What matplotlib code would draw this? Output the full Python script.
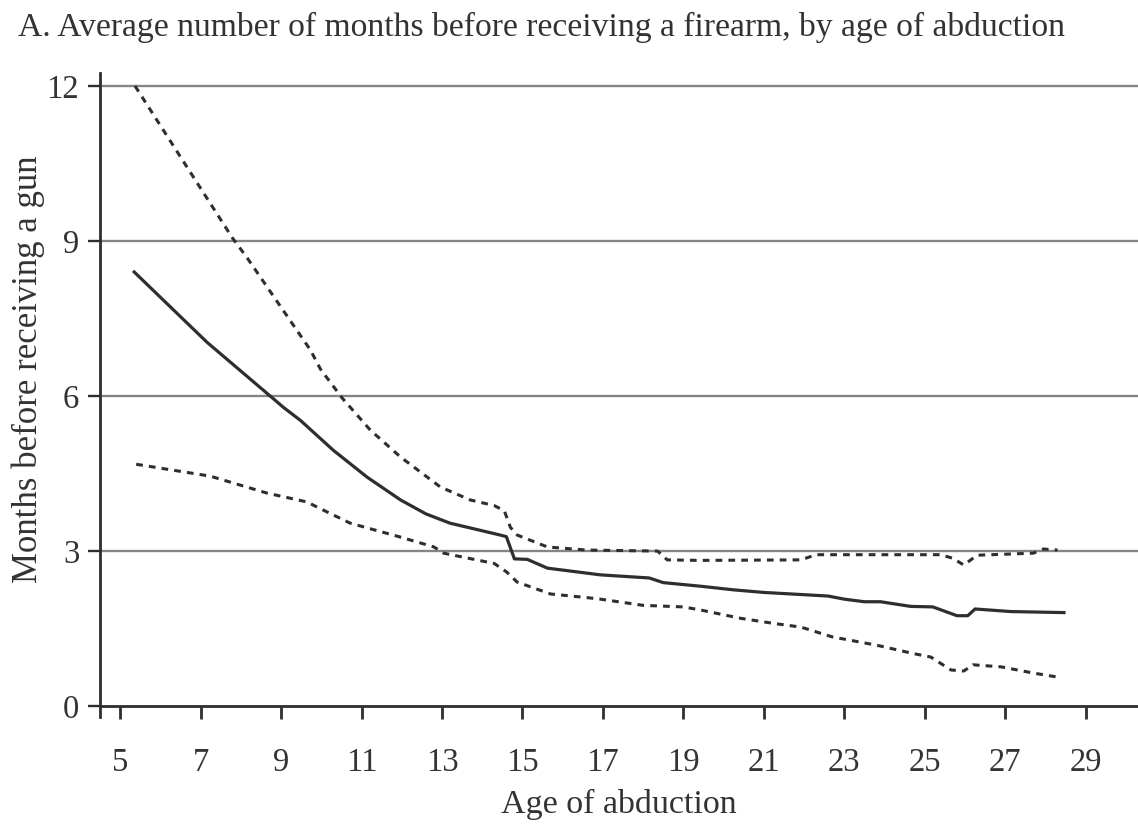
import matplotlib
matplotlib.use("Agg")
import matplotlib.pyplot as plt

plt.rcParams['font.family'] = ['Liberation Serif', 'DejaVu Serif']

# mean estimate
age_mean = [5.35, 7.16, 8.73, 9.06, 9.48, 10.3, 11.14, 11.97, 12.6, 13.2, 14.45, 14.6,
            14.8, 15.12, 15.62, 16.94, 18.15, 18.5, 19.43, 20.25, 21.0, 21.92, 22.6,
            23.0, 23.5, 23.9, 24.65, 25.2, 25.8, 26.07, 26.25, 27.14, 28.46]
months_mean = [8.40, 7.04, 6.00, 5.78, 5.53, 4.95, 4.43, 3.99, 3.72, 3.54, 3.31, 3.28,
               2.85, 2.84, 2.67, 2.54, 2.48, 2.39, 2.32, 2.25, 2.20, 2.16, 2.13,
               2.07, 2.02, 2.02, 1.93, 1.92, 1.75, 1.75, 1.88, 1.83, 1.81]

# upper confidence bound
age_upper = [5.37, 7.79, 8.16, 9.73, 9.98, 10.52, 11.22, 11.97, 12.96, 13.7, 14.3, 14.55,
             14.7, 14.87, 15.62, 16.6, 18.36, 18.6, 19.43, 21.92, 22.3, 25.4, 25.7,
             25.97, 26.3, 27.7, 27.95, 28.3]
months_upper = [12.0, 9.06, 8.67, 6.89, 6.52, 5.96, 5.34, 4.82, 4.24, 3.99, 3.88, 3.78,
                3.46, 3.31, 3.08, 3.02, 3.00, 2.83, 2.82, 2.83, 2.93, 2.93, 2.86,
                2.73, 2.92, 2.96, 3.04, 3.02]

# lower confidence bound
age_lower = [5.40, 7.24, 8.66, 9.65, 9.9, 10.72, 11.97, 12.8, 13.04, 14.3, 14.6, 14.87,
             15.7, 16.6, 16.94, 18.0, 19.0, 19.43, 20.42, 21.25, 21.92, 22.7, 23.8,
             24.7, 25.15, 25.65, 25.97, 26.2, 26.9, 27.7, 28.4]
months_lower = [4.68, 4.45, 4.12, 3.95, 3.85, 3.54, 3.27, 3.08, 2.96, 2.76, 2.60, 2.40,
                2.17, 2.10, 2.07, 1.95, 1.92, 1.86, 1.70, 1.60, 1.53, 1.34, 1.18,
                1.02, 0.95, 0.70, 0.68, 0.80, 0.76, 0.64, 0.55]

x_ticks = list(range(5, 30, 2))
y_ticks = [0, 3, 6, 9, 12]

dark = '#2e2e2e'
grid_col = '#858585'
text_col = '#333333'

fig = plt.figure(figsize=(11.38, 8.25), dpi=100)
ax = fig.add_axes([100/1138, (825-717)/825, 1 - 100/1138, (717-73)/825])

for y in y_ticks[1:]:
    ax.axhline(y, color=grid_col, lw=1.7, zorder=1)

dash = (0, (2.2, 2.0))
ax.plot(age_upper, months_upper, color=dark, lw=2.2, linestyle=dash, zorder=3)
ax.plot(age_lower, months_lower, color=dark, lw=2.2, linestyle=dash, zorder=3)
ax.plot(age_mean, months_mean, color=dark, lw=2.3, zorder=4)

ax.set_xlim(4.5, 30.3)
ax.set_ylim(-0.21, 12.25)
ax.spines['top'].set_visible(False)
ax.spines['right'].set_visible(False)
ax.spines['bottom'].set_position(('data', 0))
for s in ('left', 'bottom'):
    ax.spines[s].set_color(dark)
    ax.spines[s].set_linewidth(2.0)

ax.set_xticks(x_ticks)
ax.set_yticks(y_ticks)
ax.tick_params(axis='x', direction='out', length=9, width=2.0, color=dark,
               labelsize=23.5, pad=21, labelcolor=text_col)
ax.tick_params(axis='y', direction='out', length=9, width=1.7, color=dark,
               labelsize=23.5, pad=6, labelcolor=text_col)

ax.set_xlabel('Age of abduction', fontsize=24.5, color=text_col, labelpad=8)
ax.set_ylabel('Months before receiving a gun', fontsize=25, color=text_col)
ax.yaxis.set_label_coords(-0.053, 0.54)

fig.text(18/1138, 1 - 36/825, 'A. Average number of months before receiving a firearm, by age of abduction',
         fontsize=24.2, color=text_col, ha='left', va='baseline')

fig.savefig('out.png', dpi=100)
